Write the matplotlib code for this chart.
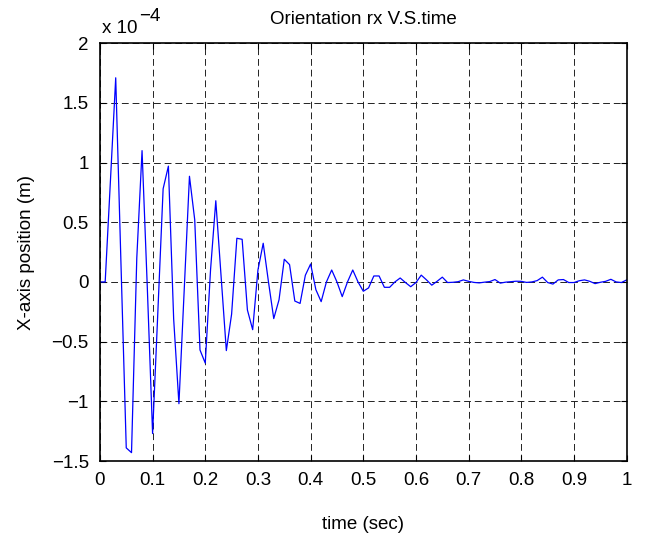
import numpy as np
import matplotlib
matplotlib.use("Agg")
import matplotlib.pyplot as plt
from matplotlib.ticker import FuncFormatter

# samples every 0.01 s, values in units of 1e-4
time = np.arange(101) * 0.01
rx_e4 = [
    0.0, 0.0, 0.85, 1.71, 0.15, -1.39, -1.43, 0.2, 1.10, -0.05,
    -1.27, -0.25, 0.78, 0.97, -0.31, -1.02, -0.07, 0.885, 0.52, -0.57,
    -0.68, 0.1, 0.68, 0.05, -0.575, -0.27, 0.366, 0.357, -0.235, -0.40,
    0.1, 0.324, 0.0, -0.307, -0.15, 0.19, 0.145, -0.16, -0.18, 0.056,
    0.15, -0.065, -0.165, 0.0, 0.10, 0.0, -0.123, 0.0, 0.10, 0.0,
    -0.078, -0.05, 0.05, 0.05, -0.045, -0.045, 0.0, 0.033, -0.005, -0.04,
    -0.005, 0.057, 0.017, -0.027, 0.005, 0.04, -0.005, -0.003, 0.002, 0.017,
    0.005, -0.004, -0.008, -0.002, 0.003, 0.02, -0.01, -0.002, 0.002, 0.006,
    0.005, -0.004, 0.0, 0.011, 0.04, -0.005, -0.018, 0.017, 0.02, -0.005,
    -0.005, 0.01, 0.017, 0.005, -0.014, -0.003, 0.005, 0.022, 0.0, -0.005,
    0.017,
]
rx = np.array(rx_e4) * 1e-4

xticks = np.arange(0, 1.01, 0.1)
yticks = np.arange(-1.5, 2.01, 0.5) * 1e-4

plt.rcParams["font.family"] = ["Liberation Sans", "DejaVu Sans"]

fs = 13.5

fig = plt.figure(figsize=(6.45, 5.39), dpi=100)
ax = fig.add_axes([0.1549, 0.1447, 0.9716 - 0.1549, 0.9199 - 0.1447])

ax.plot(time, rx, color="blue", linewidth=0.9)

ax.set_xlim(0, 1)
ax.set_ylim(-1.5e-4, 2e-4)
ax.set_xticks(xticks)
ax.set_yticks(yticks)


def fmt(v):
    s = ("%g" % round(v, 4))
    return s.replace("-", "\u2212")


ax.xaxis.set_major_formatter(FuncFormatter(lambda v, p: fmt(v)))
ax.yaxis.set_major_formatter(FuncFormatter(lambda v, p: fmt(v / 1e-4)))

ax.grid(True, color="#222222", linestyle=(0, (7, 4)), linewidth=0.7)
ax.tick_params(direction="in", top=True, right=True, length=4, width=0.8,
               labelsize=fs, pad=8)
for sp in ax.spines.values():
    sp.set_linewidth(1.2)

ax.set_title("Orientation rx V.S.time", fontsize=fs, pad=14)
ax.set_xlabel("time (sec)", fontsize=fs, labelpad=19)
ax.set_ylabel("X-axis position (m)", fontsize=fs, labelpad=12)

# scale factor written MATLAB style above the y axis
fig.text(102 / 645, 1 - 33 / 539, "x 10", fontsize=fs, ha="left", va="baseline")
fig.text(139 / 645, 1 - 21 / 539, "\u22124", fontsize=fs, ha="left", va="baseline")

fig.savefig("out.png", dpi=100)
